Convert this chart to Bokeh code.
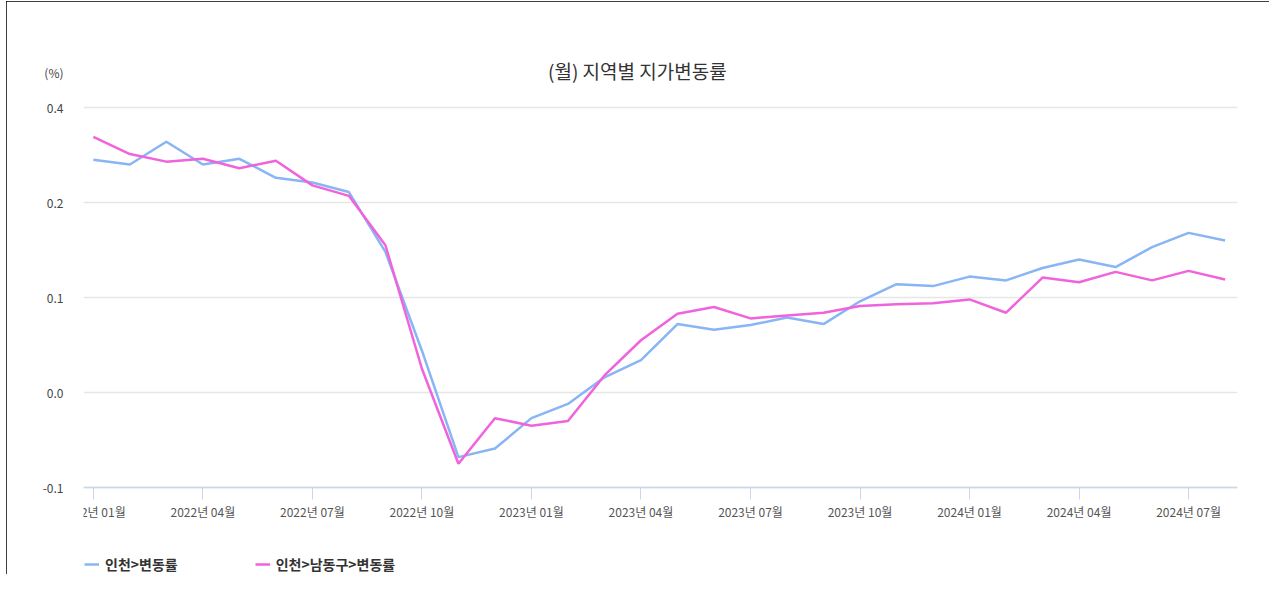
from bokeh.plotting import figure
from bokeh.models import Range1d, FixedTicker, Legend, LegendItem, Label
from bokeh.embed import file_html
from bokeh.resources import INLINE

# ---- data ----
months = ["2022-01", "2022-02", "2022-03", "2022-04", "2022-05", "2022-06", "2022-07", "2022-08",
          "2022-09", "2022-10", "2022-11", "2022-12", "2023-01", "2023-02", "2023-03", "2023-04",
          "2023-05", "2023-06", "2023-07", "2023-08", "2023-09", "2023-10", "2023-11", "2023-12",
          "2024-01", "2024-02", "2024-03", "2024-04", "2024-05", "2024-06", "2024-07", "2024-08"]
incheon = [0.245, 0.240, 0.264, 0.240, 0.246, 0.226, 0.221, 0.211,
           0.148, 0.044, -0.068, -0.059, -0.027, -0.012, 0.016, 0.034,
           0.072, 0.066, 0.071, 0.079, 0.072, 0.096, 0.114, 0.112,
           0.122, 0.118, 0.131, 0.140, 0.132, 0.153, 0.168, 0.160]
namdong = [0.269, 0.251, 0.243, 0.246, 0.236, 0.244, 0.218, 0.207,
           0.155, 0.025, -0.075, -0.027, -0.035, -0.030, 0.018, 0.055,
           0.083, 0.090, 0.078, 0.081, 0.084, 0.091, 0.093, 0.094,
           0.098, 0.084, 0.121, 0.116, 0.127, 0.118, 0.128, 0.119]
x_tick_pos = [0, 3, 6, 9, 12, 15, 18, 21, 24, 27, 30]
x_tick_labels = ["2022년 01월", "2022년 04월", "2022년 07월", "2022년 10월", "2023년 01월",
                 "2023년 04월", "2023년 07월", "2023년 10월", "2024년 01월", "2024년 04월",
                 "2024년 07월"]
y_tick_pos = [-0.1, 0.0, 0.1, 0.2, 0.3]
y_tick_labels = ["-0.1", "0.0", "0.1", "0.2", "0.4"]
series_names = ["인천>변동률", "인천>남동구>변동률"]
title_text = "(월) 지역별 지가변동률"
unit_text = "(%)"

FONT = "Noto Sans CJK KR"
BLUE = "#88b5f4"
PINK = "#f063dc"

xs = list(range(len(months)))

# frame extended (invisibly) above and below the value range so that the
# title, unit and legend sit inside it; the x axis is pinned at -0.1
Y_TOP = 0.3705
Y_BOT = -0.1926
UNIT_Y = 0.3368
TITLE_Y = 0.3389
AXIS_Y = -0.1

p = figure(width=1263, frame_width=1154, frame_height=535,
           output_backend="svg", toolbar_location=None,
           x_range=Range1d(-0.27, 31.34), y_range=Range1d(Y_BOT, Y_TOP),
           min_border_left=77, min_border_right=32, min_border_top=39, min_border_bottom=0)
p.styles = {"position": "relative", "left": "6px", "top": "1px",
            "outline": "1px solid black", "outline-offset": "-1px",
            "clip-path": "inset(0px 0px 1px 0px)"}
p.outline_line_color = None
p.background_fill_color = "white"
p.border_fill_color = "white"

r1 = p.line(xs, incheon, line_color=BLUE, line_width=2.5)
r2 = p.line(xs, namdong, line_color=PINK, line_width=2.5)

# axes
p.xaxis.fixed_location = AXIS_Y
p.xaxis.ticker = FixedTicker(ticks=x_tick_pos)
p.xaxis.major_label_overrides = {t: l for t, l in zip(x_tick_pos, x_tick_labels)}
p.xaxis.axis_line_color = "#ccd6eb"
p.xaxis.axis_line_width = 1.5
p.xaxis.major_tick_line_color = "#ccd6eb"
p.xaxis.major_tick_in = 0
p.xaxis.major_tick_out = 12
p.xaxis.minor_tick_line_color = None
p.xaxis.major_label_standoff = 3
p.xaxis.major_label_text_font = FONT
p.xaxis.major_label_text_font_size = "12px"
p.xaxis.major_label_text_color = "#555555"

p.yaxis.ticker = FixedTicker(ticks=y_tick_pos + [UNIT_Y])
overrides = {t: l for t, l in zip(y_tick_pos, y_tick_labels)}
overrides[UNIT_Y] = unit_text
p.yaxis.major_label_overrides = overrides
p.yaxis.axis_line_color = None
p.yaxis.major_tick_line_color = None
p.yaxis.minor_tick_line_color = None
p.yaxis.major_label_standoff = 14
p.yaxis.major_label_text_font = FONT
p.yaxis.major_label_text_font_size = "12px"
p.yaxis.major_label_text_color = "#444444"

p.xgrid.grid_line_color = None
p.ygrid.ticker = FixedTicker(ticks=y_tick_pos)
p.ygrid.grid_line_color = "#e6e6e6"
p.ygrid.grid_line_width = 1.5

# title
p.add_layout(Label(x=14.9, y=TITLE_Y, text=title_text, text_align="center", text_baseline="middle",
                   text_font=FONT, text_font_size="19px", text_color="#333333"))

legend = Legend(items=[LegendItem(label=series_names[0], renderers=[r1]),
                       LegendItem(label=series_names[1], renderers=[r2])],
                orientation="horizontal", location=(1, 1),
                glyph_width=15, glyph_height=20, label_standoff=6, spacing=77,
                padding=0, margin=0, border_line_color=None, background_fill_alpha=0,
                label_text_font=FONT, label_text_font_size="14px", label_text_font_style="bold",
                label_text_color="#333333")
p.add_layout(legend)

open("out.html", "w").write(file_html(p, INLINE))
